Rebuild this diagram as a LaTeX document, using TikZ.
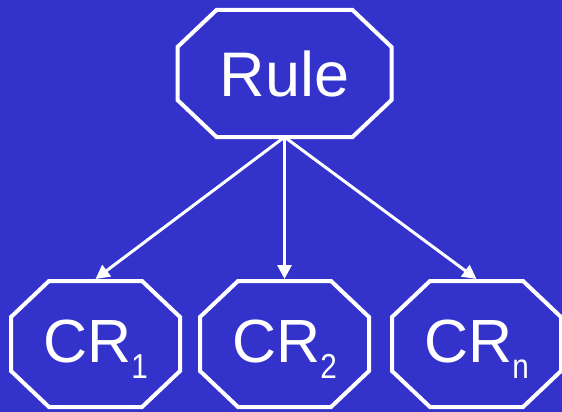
\documentclass[tikz,border=0pt]{standalone}
\usepackage{fontspec}
\setmainfont{Liberation Sans}
\usetikzlibrary{arrows.meta}
\definecolor{bgblue}{RGB}{51,51,204}
% octagonal frame around a named node: #1 node, #2 horizontal chamfer, #3 vertical chamfer
\newcommand{\octframe}[3]{%
  \draw[octline]
    ([xshift=#2]#1.north west) -- ([xshift=-#2]#1.north east)
    -- ([yshift=-#3]#1.north east) -- ([yshift=#3]#1.south east)
    -- ([xshift=-#2]#1.south east) -- ([xshift=#2]#1.south west)
    -- ([yshift=#3]#1.south west) -- ([yshift=-#3]#1.north west) -- cycle;}
\begin{document}
\begin{tikzpicture}[x=1pt,y=-1pt,
  octline/.style={draw=white, line width=4pt, line join=miter},
  octbox/.style={rectangle, inner sep=0pt, outer sep=0pt, text=white},
  crbox/.style={octbox, minimum width=169pt, minimum height=126pt,
    font=\fontsize{61}{61}\selectfont, text height=44pt, text depth=8pt},
  link/.style={draw=white, line width=3pt, -{Triangle[length=14pt,width=14pt]}}]
\fill[bgblue] (0,0) rectangle (562,412);
\useasboundingbox (0,0) rectangle (562,412);
\newcommand{\lowsub}[1]{\smash{\raisebox{-16pt}{\scalebox{0.9}[1.05]{\fontsize{33}{33}\selectfont #1}}}}
\node[octbox, minimum width=214pt, minimum height=127pt,
  font=\fontsize{63}{63}\selectfont, text height=46pt, text depth=0pt]
  (rule) at (284.5,73.5) {Rule};
\node[crbox] (cr1) at (95.5,344) {CR\lowsub{1}};
\node[crbox] (cr2) at (284.5,344) {CR\lowsub{2}};
\node[crbox] (crn) at (476.5,344) {CR\lowsub{n}};
\octframe{rule}{39pt}{37pt}
\octframe{cr1}{38pt}{36pt}
\octframe{cr2}{38pt}{36pt}
\octframe{crn}{38pt}{36pt}
\draw[link] (rule.south) -- ([yshift=2pt]cr1.north);
\draw[link] (rule.south) -- ([yshift=2pt]cr2.north);
\draw[link] (rule.south) -- ([yshift=2pt]crn.north);
\end{tikzpicture}
\end{document}
